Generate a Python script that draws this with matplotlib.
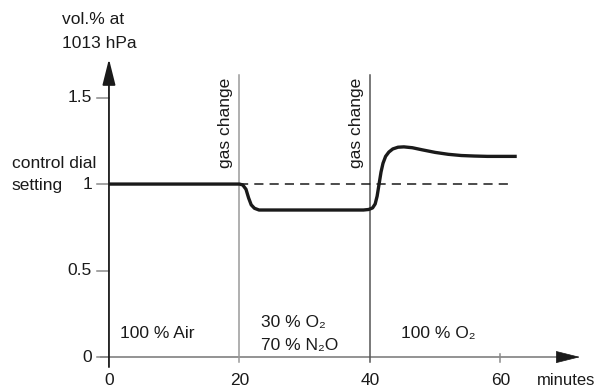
import matplotlib
matplotlib.use("Agg")
import matplotlib.pyplot as plt

plt.rcParams['font.family'] = ['Liberation Sans', 'DejaVu Sans']

# Measured concentration trace (minutes, vol.%)
t_min = [0, 20, 20.5, 21, 21.4, 21.8, 22.3, 23, 30, 39, 39.8, 40.4, 40.8,
         41.1, 41.4, 41.7, 42.0, 42.4, 42.9, 43.5, 44.3, 45.2, 46.5, 48,
         50, 52, 54, 56, 58, 62.5]
conc = [1.0, 1.0, 0.995, 0.97, 0.92, 0.88, 0.86, 0.85, 0.85, 0.85, 0.853,
        0.862, 0.885, 0.93, 1.0, 1.07, 1.12, 1.16, 1.185, 1.203, 1.213,
        1.215, 1.21, 1.198, 1.183, 1.172, 1.165, 1.162, 1.16, 1.16]

# Control dial setting (reference level)
dial_t = [20, 61.5]
dial_level = [1.0, 1.0]

# Gas change instants
change_t = [20, 40]
change_colors = ['#9a9a9a', '#555555']

y_ticks = [0, 0.5, 1, 1.5]
y_tick_labels = ['0', '0.5', '1', '1.5']
x_ticks = [0, 20, 40, 60]
x_tick_labels = ['0', '20', '40', '60']

# gas mixture labels: (x, y, text)
regions = [(1.7, 0.139, '100 % Air'),
           (23.3, 0.197, '30 % O\u2082'),
           (23.3, 0.064, '70 % N\u2082O'),
           (44.75, 0.139, '100 % O\u2082')]

fig = plt.figure(figsize=(5.97, 3.92), dpi=100)
ax = fig.add_axes([0, 0, 1, 1])
ax.set_xlim(-16.7, 74.8)
ax.set_ylim(-0.202, 2.064)
ax.axis('off')

fs = 12.5
dark = '#1a1a1a'

# axes with arrows
ax.plot([-1.4, 69.5], [0, 0], color='#8a8a8a', lw=1.3, solid_capstyle='butt')
ax.annotate('', xy=(72.2, 0), xytext=(68.8, 0),
            arrowprops=dict(arrowstyle='-|>,head_length=0.8,head_width=0.2',
                            mutation_scale=20, color=dark, lw=0.5, shrinkA=0, shrinkB=0))
ax.annotate('', xy=(0, 1.723), xytext=(0, -0.058),
            arrowprops=dict(arrowstyle='-|>,head_length=0.8,head_width=0.2',
                            mutation_scale=20, color=dark, lw=1.3, shrinkA=0, shrinkB=0))

# gas change markers
for tc, col in zip(change_t, change_colors):
    ax.plot([tc, tc], [-0.03, 1.63], color=col, lw=1.1)
    ax.text(tc - 2.1, 1.092, 'gas change', rotation=90, ha='center', va='bottom',
            fontsize=fs, color=dark)

# x ticks
for xt, lab in zip(x_ticks, x_tick_labels):
    if xt == 60:
        ax.plot([xt, xt], [-0.03, 0.02], color='#8a8a8a', lw=1.1)
    ax.text(xt, -0.133, lab, ha='center', va='center', fontsize=fs, color=dark)
ax.text(74.5, -0.133, 'minutes', ha='right', va='center', fontsize=12, color=dark)

# y ticks
for yt, lab in zip(y_ticks, y_tick_labels):
    ax.plot([-1.84, 0], [yt, yt], color='#8a8a8a', lw=1.1)
    ax.text(-2.6, yt, lab, ha='right', va='center', fontsize=fs, color=dark)

ax.text(-14.87, 1.121, 'control dial', ha='left', va='center', fontsize=fs, color=dark)
ax.text(-14.87, 0.994, 'setting', ha='left', va='center', fontsize=fs, color=dark)
ax.text(-7.2, 1.954, 'vol.% at', ha='left', va='center', fontsize=fs, color=dark)
ax.text(-7.2, 1.815, '1013 hPa', ha='left', va='center', fontsize=fs, color=dark)

# reference level and measured trace
ax.plot(dial_t, dial_level, color=dark, lw=1.1, dashes=(6, 4))
ax.plot(t_min, conc, color=dark, lw=2.4, solid_capstyle='butt', solid_joinstyle='round')

for xr, yr, lab in regions:
    ax.text(xr, yr, lab, ha='left', va='center', fontsize=fs, color=dark)

fig.savefig('out.png', dpi=100)
